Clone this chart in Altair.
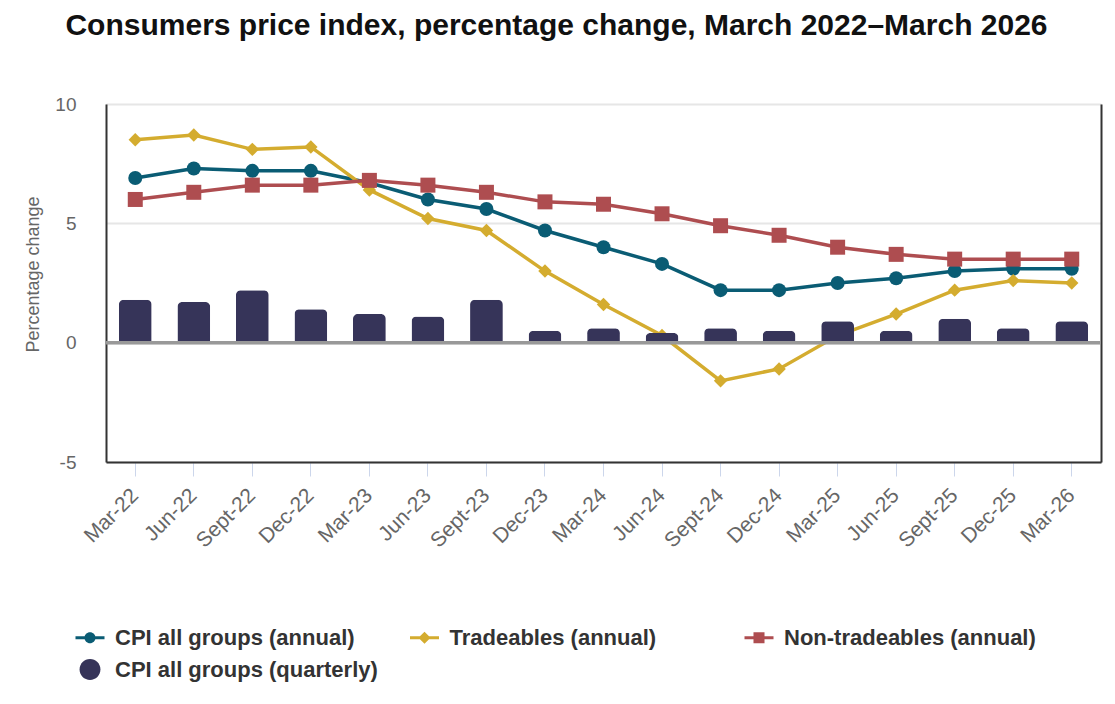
import altair as alt
import pandas as pd

quarters = ["Mar-22", "Jun-22", "Sept-22", "Dec-22", "Mar-23", "Jun-23", "Sept-23",
            "Dec-23", "Mar-24", "Jun-24", "Sept-24", "Dec-24", "Mar-25", "Jun-25",
            "Sept-25", "Dec-25", "Mar-26"]
cpi_annual = [6.9, 7.3, 7.2, 7.2, 6.7, 6.0, 5.6, 4.7, 4.0, 3.3, 2.2, 2.2, 2.5, 2.7, 3.0, 3.1, 3.1]
tradeables = [8.5, 8.7, 8.1, 8.2, 6.4, 5.2, 4.7, 3.0, 1.6, 0.3, -1.6, -1.1, 0.3, 1.2, 2.2, 2.6, 2.5]
non_tradeables = [6.0, 6.3, 6.6, 6.6, 6.8, 6.6, 6.3, 5.9, 5.8, 5.4, 4.9, 4.5, 4.0, 3.7, 3.5, 3.5, 3.5]
cpi_quarterly = [1.8, 1.7, 2.2, 1.4, 1.2, 1.1, 1.8, 0.5, 0.6, 0.4, 0.6, 0.5, 0.9, 0.5, 1.0, 0.6, 0.9]

S_ANN = "CPI all groups (annual)"
S_TRD = "Tradeables (annual)"
S_NON = "Non-tradeables (annual)"
S_QTR = "CPI all groups (quarterly)"
series_names = [S_ANN, S_TRD, S_NON, S_QTR]
series_colors = ["#0a5c74", "#d4ac2f", "#ae4d50", "#363459"]

rows = []
for name, vals in [(S_ANN, cpi_annual), (S_TRD, tradeables), (S_NON, non_tradeables), (S_QTR, cpi_quarterly)]:
    for q, v in zip(quarters, vals):
        rows.append({"quarter": q, "series": name, "value": v})
df = pd.DataFrame(rows)

FONT = "Liberation Sans"

color_scale = alt.Scale(domain=series_names, range=series_colors)
x_enc = alt.X("quarter:N", sort=quarters,
              scale=alt.Scale(paddingInner=0.44, paddingOuter=0.22),
              axis=alt.Axis(title=None, labelAngle=-45, labelAlign="right", labelBaseline="middle",
                            labelFontSize=21, labelFont=FONT, labelColor="#666666", labelPadding=16,
                            tickSize=14, tickColor="#ccd6eb", tickWidth=1,
                            domainColor="#333333", domainWidth=2, grid=False))
y_scale = alt.Scale(domain=[-5, 10], nice=False, zero=False)
y_axis_left = alt.Axis(title="Percentage change", values=[-5, 0, 5, 10], labelFontSize=19,
                       labelExpr="toString(datum.value)",
                       labelFont=FONT, labelColor="#666666", labelPadding=30, ticks=False,
                       domainColor="#333333", domainWidth=2, grid=True, gridColor="#e6e6e6",
                       gridWidth=2, titleFontSize=18, titleFont=FONT, titleColor="#666666",
                       titleFontWeight="normal", titlePadding=12, titleY=170)

base = alt.Chart(df)

# legend symbols: line segment plus marker, drawn as filled paths
p_line = "M-1,-0.1L1,-0.1L1,0.1L-1,0.1Z"
p_circle = "M-0.38,0A0.38,0.38 0 1,1 0.38,0A0.38,0.38 0 1,1 -0.38,0Z"
p_diamond = "M0,-0.42L0.42,0L0,0.42L-0.42,0Z"
p_square = "M-0.38,-0.38L0.38,-0.38L0.38,0.38L-0.38,0.38Z"
p_big = "M-0.72,0A0.72,0.72 0 1,1 0.72,0A0.72,0.72 0 1,1 -0.72,0Z"
shape_paths = [p_line + p_circle, p_line + p_diamond, p_line + p_square, p_big]

legend_def = alt.Legend(title=None, orient="none", legendX=-30.5, legendY=519, direction="horizontal",
                        columns=3, gridAlign="all", columnPadding=31.5, rowPadding=6,
                        symbolSize=841, symbolOffset=0, labelOffset=10.5, labelLimit=500,
                        labelFontSize=22, labelFont=FONT, labelFontWeight="bold", labelColor="#333333",
                        padding=0, symbolStrokeWidth=0)
legend_layer = base.transform_filter("false").mark_point(filled=True, opacity=1, size=841).encode(
    color=alt.Color("series:N", scale=color_scale, legend=legend_def),
    shape=alt.Shape("series:N", scale=alt.Scale(domain=series_names, range=shape_paths), legend=legend_def),
)

layers = [legend_layer]
shape_map = {S_ANN: ("circle", 196), S_TRD: ("diamond", 180), S_NON: ("square", 225)}
for name in [S_ANN, S_TRD, S_NON]:
    sub = base.transform_filter(alt.datum.series == name)
    line = sub.mark_line(strokeWidth=3.5).encode(
        x=x_enc,
        y=alt.Y("value:Q", scale=y_scale, axis=None),
        color=alt.Color("series:N", scale=color_scale, legend=None),
    )
    shp, size = shape_map[name]
    pts = sub.mark_point(filled=True, opacity=1, shape=shp, size=size).encode(
        x=x_enc,
        y=alt.Y("value:Q", scale=y_scale, axis=None),
        color=alt.Color("series:N", scale=color_scale, legend=None),
    )
    layers += [line, pts]

bars = base.transform_filter(alt.datum.series == S_QTR).mark_bar(
    cornerRadiusTopLeft=5, cornerRadiusTopRight=5
).encode(
    x=x_enc,
    y=alt.Y("value:Q", scale=y_scale, axis=y_axis_left),
    color=alt.Color("series:N", scale=color_scale, legend=None),
)

zero_rule = alt.Chart(pd.DataFrame({"zero": [0]})).mark_rule(color="#999999", strokeWidth=3.5).encode(
    y=alt.Y("zero:Q", scale=y_scale,
            axis=alt.Axis(orient="right", title=None, labels=False, ticks=False, grid=False,
                          domainColor="#333333", domainWidth=2)),
)

chart = alt.layer(*layers, bars, zero_rule).resolve_axis(y="independent").properties(
    width=995, height=358,
    padding={"left": 98, "top": 96, "right": 6, "bottom": 234},
    autosize=alt.AutoSizeParams(type="none"),
    title=alt.Title("Consumers price index, percentage change, March 2022\u2013March 2026",
                    font=FONT, fontSize=30, fontWeight="bold", color="#111111",
                    anchor="middle", frame="group", dx=-47, offset=30, baseline="alphabetic"),
).configure_view(stroke=None).configure(background="white")

chart.save("out.html", embed_options={"renderer": "svg", "actions": False})
